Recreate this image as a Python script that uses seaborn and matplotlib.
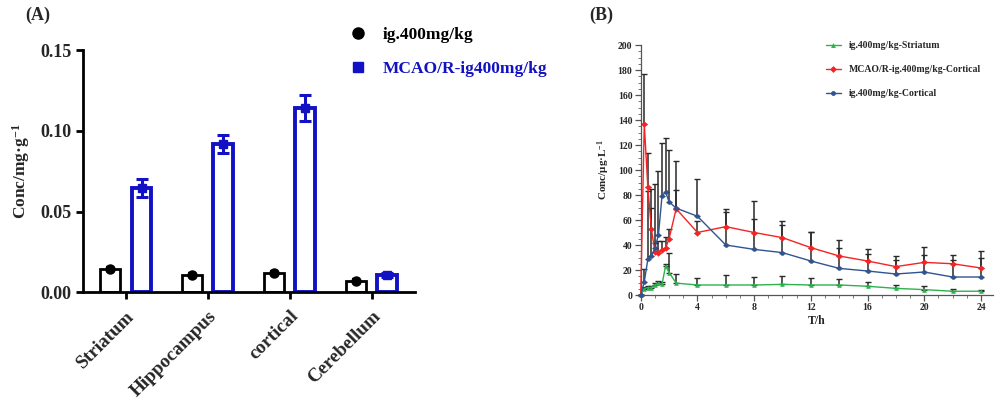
import numpy as np
import pandas as pd
import matplotlib
matplotlib.use("Agg")
import matplotlib.pyplot as plt
from matplotlib.lines import Line2D
from matplotlib.ticker import MultipleLocator
import seaborn as sns

# ---------------- data: panel A ----------------
regions = ["Striatum", "Hippocampus", "cortical", "Cerebellum"]
groups = ["ig.400mg/kg", "MCAO/R-ig400mg/kg"]
a_ig_mean = [0.0142, 0.0110, 0.0122, 0.0073]
a_ig_err = [0.0012, 0.0010, 0.0010, 0.0008]
a_mcao_mean = [0.0645, 0.0920, 0.1140, 0.0105]
a_mcao_err = [0.0056, 0.0056, 0.0080, 0.0012]

# ---------------- data: panel B ----------------
t_hours = [0, 0.25, 0.5, 0.75, 1.0, 1.25, 1.5, 1.75, 2.0, 2.5, 4, 6, 8, 10, 12, 14, 16, 18, 20, 22, 24]
striatum_ig = [0, 5, 6, 6, 8, 9.5, 8.5, 23, 18, 9.5, 8, 8, 8, 8.5, 8, 8, 7, 5.3, 4.3, 3, 3]
striatum_ig_err = [0, 1.5, 1.5, 1.5, 2, 2, 2, 2, 16, 7, 5.5, 8, 6.5, 6.7, 5.3, 4.5, 3.4, 2.7, 2.9, 1.5, 1]
cortical_mcao = [0, 137, 86.5, 52.8, 34.7, 34, 36, 37.3, 45, 69, 50, 54.7, 50, 45.9, 37.9, 31.2, 27.2, 22.7, 26.1, 25, 21.6]
cortical_mcao_err = [0, 40, 27, 17, 7, 9, 7, 9, 8, 15, 9, 12, 11, 13, 12.5, 13, 10, 8.5, 12.5, 7, 13.5]
cortical_ig = [0, 10.5, 28.5, 31, 37.5, 48, 79, 82.5, 74.5, 69.5, 63, 40, 36.5, 33.9, 27.2, 21.3, 19.2, 16.8, 18.4, 14.4, 14.4]
cortical_ig_err = [0, 10, 54.5, 54, 51.5, 51, 43, 43.5, 41.5, 37.5, 30, 29, 39, 22, 23, 16, 13.6, 11, 13.6, 13.6, 15]
b_labels = ["ig.400mg/kg-Striatum", "MCAO/R-ig.400mg/kg-Cortical", "ig.400mg/kg-Cortical"]

# ---------------- style ----------------
sns.set_theme(style="ticks")
plt.rcParams["font.family"] = ["Liberation Serif", "DejaVu Serif"]
plt.rcParams["font.weight"] = "bold"
plt.rcParams["axes.labelweight"] = "bold"
plt.rcParams["mathtext.fontset"] = "custom"
plt.rcParams["mathtext.rm"] = "Liberation Serif:bold"
plt.rcParams["mathtext.bf"] = "Liberation Serif:bold"
plt.rcParams["mathtext.default"] = "bf"

BLUE_A = "#1212C4"
GREEN = "#2DB24E"
RED = "#F52323"
NAVY = "#2F5491"

fig = plt.figure(figsize=(9.96, 4.04), dpi=100)

# ================= Panel A =================
axA = fig.add_axes([0.0837, 0.2765, 0.3330, 0.5997])
dfA = pd.DataFrame({
    "region": regions * 2,
    "group": [groups[0]] * 4 + [groups[1]] * 4,
    "value": a_ig_mean + a_mcao_mean,
})
sns.barplot(data=dfA, x="region", y="value", hue="group", order=regions,
            hue_order=groups, palette=["black", BLUE_A], fill=False,
            width=0.76, gap=0.36, errorbar=None, legend=False, ax=axA,
            linewidth=2.2)
for patch in axA.patches:
    ec = patch.get_edgecolor()
    patch.set_facecolor("white")
    if ec[2] > 0.5 and ec[0] < 0.3:
        patch.set_linewidth(2.8)
    else:
        patch.set_linewidth(2.0)
x_idx = np.arange(len(regions))
axA.errorbar(x_idx - 0.19, a_ig_mean, yerr=a_ig_err, fmt="o", color="black",
             ms=6.5, capsize=3, elinewidth=1.6, capthick=1.6, zorder=5)
axA.errorbar(x_idx + 0.19, a_mcao_mean, yerr=a_mcao_err, fmt="s", color=BLUE_A,
             ms=6, capsize=4.5, elinewidth=2.2, capthick=2.2, zorder=5)
axA.set_xlim(-0.52, 3.53)
axA.set_ylim(0, 0.15)
axA.set_yticks([0.0, 0.05, 0.10, 0.15])
axA.set_yticklabels(["0.00", "0.05", "0.10", "0.15"])
axA.set_xlabel("")
axA.set_ylabel("Conc/mg·g$^{-1}$", fontsize=12.5, labelpad=6)
for s in ["top", "right"]:
    axA.spines[s].set_visible(False)
for s in ["left", "bottom"]:
    axA.spines[s].set_linewidth(2.0)
    axA.spines[s].set_color("black")
axA.tick_params(axis="both", width=2.0, length=5, color="black", labelsize=13)
axA.tick_params(axis="x", pad=6)
plt.setp(axA.get_xticklabels(), rotation=45, ha="right", rotation_mode="anchor",
         fontsize=13.8, fontweight="bold")
plt.setp(axA.get_yticklabels(), fontweight="bold")

legA = fig.legend(
    handles=[Line2D([], [], ls="none", marker="o", color="black", ms=8),
             Line2D([], [], ls="none", marker="s", color=BLUE_A, ms=7.5)],
    labels=groups, loc="upper left", bbox_to_anchor=(0.326, 0.972),
    frameon=False, labelspacing=1.0, handletextpad=0.45,
    labelcolor=["black", BLUE_A], prop={"weight": "bold", "size": 12.5})

fig.text(0.025, 0.95, "(A)", fontsize=13, fontweight="bold")

# ================= Panel B =================
axB = fig.add_axes([0.6433, 0.2698, 0.3537, 0.6188])
dfB = pd.DataFrame({
    "t": t_hours * 3,
    "conc": striatum_ig + cortical_mcao + cortical_ig,
    "series": [b_labels[0]] * len(t_hours) + [b_labels[1]] * len(t_hours) + [b_labels[2]] * len(t_hours),
})
series_err = {b_labels[0]: striatum_ig_err, b_labels[1]: cortical_mcao_err, b_labels[2]: cortical_ig_err}
series_col = {b_labels[0]: GREEN, b_labels[1]: RED, b_labels[2]: NAVY}
series_mk = {b_labels[0]: "^", b_labels[1]: "D", b_labels[2]: "o"}

for lab in b_labels:
    sub = dfB[dfB["series"] == lab]
    err = np.array(series_err[lab])
    axB.errorbar(sub["t"], sub["conc"], yerr=[np.zeros_like(err), err],
                 fmt="none", ecolor="#2a2a2a", elinewidth=1.1, capsize=2.2,
                 capthick=1.0, zorder=2, clip_on=False)

sns.lineplot(data=dfB, x="t", y="conc", hue="series", style="series",
             hue_order=b_labels, style_order=b_labels,
             palette=series_col, markers=series_mk, dashes=False,
             markersize=3.3, markeredgewidth=0, linewidth=1.0,
             estimator=None, legend=False, ax=axB, zorder=3)
for ln in axB.lines:
    ln.set_clip_on(False)

axB.set_xlim(0, 24.85)
axB.set_ylim(0, 200)
axB.xaxis.set_major_locator(MultipleLocator(4))
axB.xaxis.set_minor_locator(MultipleLocator(1))
axB.yaxis.set_major_locator(MultipleLocator(20))
axB.yaxis.set_minor_locator(MultipleLocator(5))
for s in ["top", "right"]:
    axB.spines[s].set_visible(False)
for s in ["left", "bottom"]:
    axB.spines[s].set_linewidth(0.9)
    axB.spines[s].set_color("#555555")
axB.tick_params(axis="both", which="major", length=4, width=0.9, color="#555555",
                labelsize=7, pad=2)
axB.tick_params(axis="both", which="minor", length=2, width=0.7, color="#777777")
plt.setp(axB.get_xticklabels() + axB.get_yticklabels(), fontweight="bold")
axB.set_xlabel("T/h", fontsize=8.5, labelpad=2)
axB.set_ylabel("Conc/μg·L$^{-1}$", fontsize=8, labelpad=4)

legB = axB.legend(
    handles=[Line2D([], [], color=series_col[l], marker=series_mk[l], ms=3.5,
                    lw=1.0, markeredgewidth=0) for l in b_labels],
    labels=b_labels, loc="upper left", bbox_to_anchor=(0.50, 1.05),
    frameon=False, prop={"weight": "bold", "size": 7}, handlelength=1.6,
    handletextpad=0.8, labelspacing=1.55)

fig.text(0.592, 0.95, "(B)", fontsize=13, fontweight="bold")

fig.savefig("out.png", dpi=100)
